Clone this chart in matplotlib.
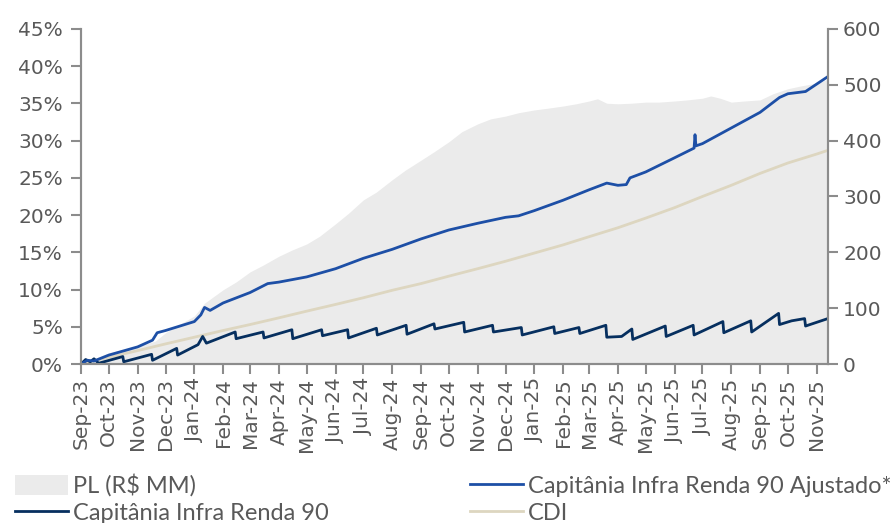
import numpy as np
import pandas as pd
import matplotlib
matplotlib.use("Agg")
import matplotlib.pyplot as plt
import matplotlib.dates as mdates
from matplotlib.patches import Patch
from matplotlib.lines import Line2D

plt.rcParams['font.family'] = ['DejaVu Sans']

# PL do fundo (R$ MM), eixo da direita
pl_dates = ["2023-09-01", "2023-10-01", "2023-11-01", "2023-11-20", "2023-12-01",
            "2023-12-15", "2024-01-01", "2024-01-12", "2024-02-01", "2024-02-15",
            "2024-03-01", "2024-03-15", "2024-04-01", "2024-04-15", "2024-05-01",
            "2024-05-15", "2024-06-01", "2024-06-15", "2024-07-01", "2024-07-15",
            "2024-08-01", "2024-08-15", "2024-09-01", "2024-09-15", "2024-10-01",
            "2024-10-15", "2024-11-01", "2024-11-15", "2024-12-01", "2024-12-15",
            "2025-01-01", "2025-01-15", "2025-02-01", "2025-02-15", "2025-03-01",
            "2025-03-10", "2025-03-20", "2025-04-01", "2025-04-15", "2025-05-01",
            "2025-05-15", "2025-06-01", "2025-06-15", "2025-07-01", "2025-07-10",
            "2025-07-20", "2025-08-01", "2025-08-15", "2025-09-01", "2025-09-15",
            "2025-10-01", "2025-10-15", "2025-11-01", "2025-11-13"]
pl_vals = [0, 20, 32, 41, 56, 70, 86, 109, 133, 147,
           165, 177, 193, 204, 215, 229, 251, 270, 294, 308,
           330, 347, 365, 380, 398, 416, 430, 439, 444, 450,
           455, 458, 462, 466, 471, 475, 467, 466, 467, 469,
           469, 471, 473, 476, 480, 476, 469, 471, 473, 484,
           493, 498, 503, 510]

# Capitânia Infra Renda 90 Ajustado* (%)
adj_dates = ["2023-09-01", "2023-09-08", "2023-09-15", "2023-10-01", "2023-11-01",
             "2023-11-17", "2023-11-22", "2023-12-01", "2024-01-01", "2024-01-08",
             "2024-01-12", "2024-01-18", "2024-02-01", "2024-03-01", "2024-03-20",
             "2024-04-01", "2024-05-01", "2024-06-01", "2024-07-01", "2024-08-01",
             "2024-09-01", "2024-10-01", "2024-11-01", "2024-12-01", "2024-12-15",
             "2025-01-01", "2025-02-01", "2025-03-01", "2025-03-20", "2025-04-01",
             "2025-04-10", "2025-04-14", "2025-05-01", "2025-06-01", "2025-06-22",
             "2025-06-23", "2025-06-24", "2025-07-01", "2025-08-01", "2025-09-01",
             "2025-09-22", "2025-10-01", "2025-10-20", "2025-11-01", "2025-11-13"]
adj_vals = [0.0, 0.5, 0.4, 1.2, 2.3,
            3.2, 4.2, 4.5, 5.7, 6.6,
            7.6, 7.2, 8.2, 9.6, 10.8,
            11.0, 11.7, 12.8, 14.2, 15.4,
            16.8, 18.0, 18.9, 19.7, 19.9,
            20.6, 22.0, 23.4, 24.3, 24.0,
            24.1, 25.0, 25.8, 27.7, 29.0,
            30.8, 29.3, 29.6, 31.7, 33.8,
            35.8, 36.3, 36.6, 37.6, 38.6]

# Capitânia Infra Renda 90 (%)
cota_dates = ["2023-09-01", "2023-09-06", "2023-09-11", "2023-09-15", "2023-09-20",
              "2023-10-16", "2023-10-17", "2023-11-16", "2023-11-17", "2023-12-13",
              "2023-12-14", "2024-01-05", "2024-01-10", "2024-01-14", "2024-02-14",
              "2024-02-15", "2024-03-15", "2024-03-16", "2024-04-15", "2024-04-16",
              "2024-05-17", "2024-05-18", "2024-06-14", "2024-06-15", "2024-07-15",
              "2024-07-16", "2024-08-16", "2024-08-17", "2024-09-15", "2024-09-16",
              "2024-10-17", "2024-10-18", "2024-11-17", "2024-11-18", "2024-12-18",
              "2024-12-19", "2025-01-22", "2025-01-23", "2025-02-18", "2025-02-19",
              "2025-03-19", "2025-03-20", "2025-04-05", "2025-04-16", "2025-04-17",
              "2025-05-22", "2025-05-23", "2025-06-21", "2025-06-22", "2025-07-23",
              "2025-07-24", "2025-08-22", "2025-08-23", "2025-09-21", "2025-09-22",
              "2025-10-05", "2025-10-19", "2025-10-20", "2025-11-13"]
cota_vals = [0.0, 0.6, 0.3, 0.7, 0.1,
             1.0, 0.3, 1.3, 0.5, 2.1,
             1.2, 2.6, 3.7, 2.8, 4.3,
             3.4, 4.3, 3.5, 4.6, 3.4,
             4.6, 3.8, 4.6, 3.5, 4.8,
             3.9, 5.2, 4.0, 5.4, 4.7,
             5.6, 4.3, 5.2, 4.3, 4.9,
             3.9, 5.0, 4.1, 4.9, 4.1,
             5.2, 3.6, 3.7, 4.7, 3.3,
             5.1, 3.7, 5.2, 3.9, 5.7,
             4.2, 5.8, 4.3, 6.8, 5.3,
             5.8, 6.1, 5.1, 6.1]

# CDI acumulado (%)
cdi_dates = ["2023-09-01", "2023-10-01", "2023-11-01", "2023-12-01", "2024-01-01",
             "2024-02-01", "2024-03-01", "2024-04-01", "2024-05-01", "2024-06-01",
             "2024-07-01", "2024-08-01", "2024-09-01", "2024-10-01", "2024-11-01",
             "2024-12-01", "2025-01-01", "2025-02-01", "2025-03-01", "2025-04-01",
             "2025-05-01", "2025-06-01", "2025-07-01", "2025-08-01", "2025-09-01",
             "2025-10-01", "2025-11-01", "2025-11-13"]
cdi_vals = [0.0, 0.9, 1.8, 2.7, 3.6,
            4.5, 5.3, 6.2, 7.1, 8.0,
            8.9, 9.9, 10.8, 11.8, 12.8,
            13.8, 14.9, 16.0, 17.1, 18.3,
            19.6, 21.0, 22.5, 24.0, 25.6,
            27.0, 28.2, 28.7]

c_fill = "#ebebeb"
c_adj = "#1d4fa6"
c_cota = "#062f5f"
c_cdi = "#ddd6c0"
c_axis = "#8c8c8c"
c_text = "#595959"

fig = plt.figure(figsize=(8.94, 5.23), dpi=100)
ax = fig.add_axes([0.0906, 0.304, 0.8354, 0.6406])
ax2 = ax.twinx()

# área do PL fica atrás das linhas
ax2.set_zorder(ax.get_zorder() - 1)
ax.patch.set_visible(False)

pl_x = pd.to_datetime(pl_dates)
ax2.fill_between(pl_x, 0, pl_vals, color=c_fill, linewidth=0)

ax.plot(pd.to_datetime(cdi_dates), cdi_vals, color=c_cdi, lw=2.0)
ax.plot(pd.to_datetime(cota_dates), cota_vals, color=c_cota, lw=2.0)
ax.plot(pd.to_datetime(adj_dates), adj_vals, color=c_adj, lw=2.0)

ax.set_xlim(pd.Timestamp("2023-09-01"), pd.Timestamp("2025-11-13"))
ax.set_ylim(0, 45)
ax2.set_ylim(0, 600)
ax.set_yticks(np.arange(0, 46, 5))
ax.set_yticklabels([f"{v}%" for v in range(0, 46, 5)])
ax2.set_yticks(np.arange(0, 601, 100))

ax.xaxis.set_major_locator(mdates.MonthLocator())
ax.xaxis.set_major_formatter(mdates.DateFormatter("%b-%y"))

for a in (ax, ax2):
    a.spines["top"].set_visible(False)
    for side in ("left", "right", "bottom"):
        a.spines[side].set_color(c_axis)
        a.spines[side].set_linewidth(1.5)
    a.tick_params(colors=c_axis, labelcolor=c_text, labelsize=14.5,
                  width=1.5, length=7)
ax.tick_params(axis="x", rotation=90, pad=3)
ax.tick_params(axis="y", pad=6)
ax2.tick_params(axis="y", pad=4)

handles = [
    Patch(facecolor=c_fill, edgecolor="none"),
    Line2D([], [], color=c_cota, lw=2.0),
    Line2D([], [], color=c_adj, lw=2.0),
    Line2D([], [], color=c_cdi, lw=2.0),
]
labels = ["PL (R$ MM)", "Capitânia Infra Renda 90",
          "Capitânia Infra Renda 90 Ajustado*", "CDI"]
fig.legend(handles, labels, loc="lower left", bbox_to_anchor=(-0.007, -0.042),
           ncol=2, frameon=False, labelcolor=c_text,
           prop={"family": "Lato", "size": 17},
           handlelength=2.25, handleheight=0.9, handletextpad=0.2,
           columnspacing=6.0, labelspacing=0.2)

fig.savefig("out.png", dpi=100)
